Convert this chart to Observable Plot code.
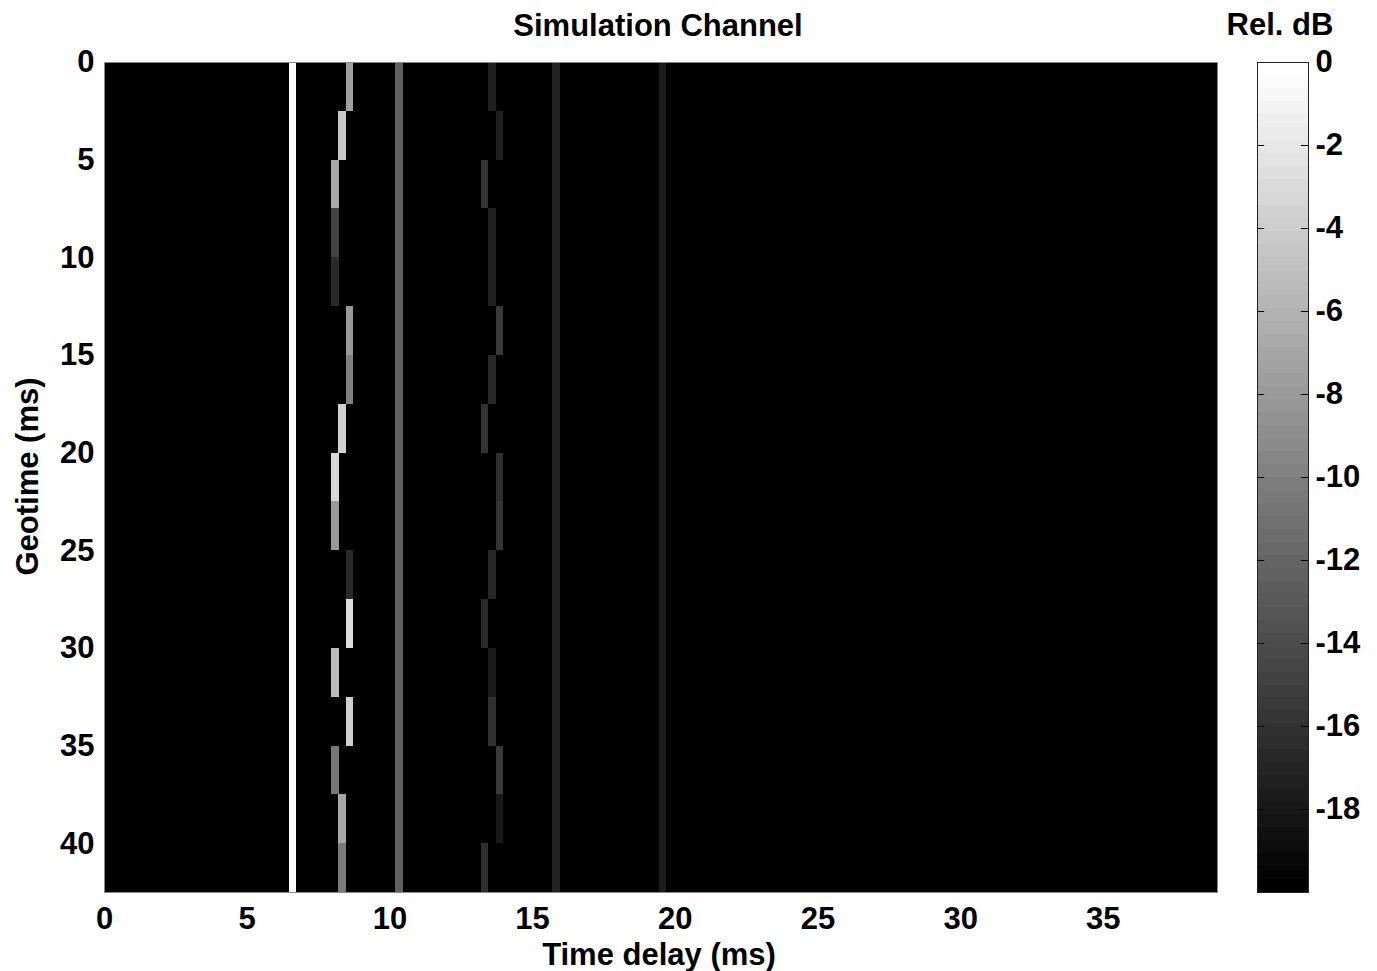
<!DOCTYPE html>
<html>
<head>
<meta charset="utf-8">
<script src="https://cdn.jsdelivr.net/npm/d3@7"></script>
<script src="https://cdn.jsdelivr.net/npm/@observablehq/plot@0.6"></script>
<style>
  body { margin: 0; background: #fff; }
  #wrap { position: relative; width: 1377px; height: 971px; overflow: hidden;
          font-family: "Liberation Sans", Arial, sans-serif; font-weight: bold; }
  #wrap svg { position: absolute; top: 0; }
  .lbl { position: absolute; font-size: 31px; line-height: 31px; font-weight: bold;
         color: #000; white-space: nowrap; text-align: center; }
</style>
</head>
<body>
<div id="wrap"></div>
<script>
// ---- data ----
const geotime = [0, 2.5, 5, 7.5, 10, 12.5, 15, 17.5, 20, 22.5, 25, 27.5, 30, 32.5, 35, 37.5, 40];

// straight (time-invariant) paths
const constDelay = [6.61, 10.33, 15.84, 19.58];
const constDb    = [0, -12.5, -17.3, -17.8];

// first wandering path (around 8 - 8.7 ms)
const path1Delay = [8.6, 8.34, 8.09, 8.09, 8.09, 8.6, 8.6, 8.34, 8.09, 8.09, 8.6, 8.6, 8.09, 8.6, 8.09, 8.34, 8.34];
const path1Db    = [-7.5, -4.3, -6.7, -15.0, -16.7, -8.0, -10.0, -3.7, -3.1, -8.0, -16.7, -2.7, -5.2, -3.8, -10.7, -6.8, -10.4];

// second wandering path (around 13.3 - 13.9 ms)
const path2Delay = [13.6, 13.85, 13.34, 13.6, 13.6, 13.85, 13.6, 13.34, 13.85, 13.85, 13.6, 13.34, 13.6, 13.6, 13.85, 13.85, 13.34];
const path2Db    = [-17.6, -17.6, -16.0, -17.5, -17.5, -15.5, -16.9, -16.0, -16.4, -16.0, -17.0, -16.7, -18.0, -16.2, -15.5, -18.1, -16.4];

const xTicks  = [0, 5, 10, 15, 20, 25, 30, 35];
const yTicks  = [0, 5, 10, 15, 20, 25, 30, 35, 40];
const cbTicks = [0, -2, -4, -6, -8, -10, -12, -14, -16, -18];

const delayStep = 0.26;   // ms, width of a delay bin
const geoStep = 2.5;      // ms, height of a geotime row
const dbMin = -20, dbMax = 0;

// ---- build cells ----
const cells = [];
geotime.forEach((g, i) => {
  constDelay.forEach((d, k) => cells.push({geotime: g, delay: d, db: constDb[k]}));
  cells.push({geotime: g, delay: path1Delay[i], db: path1Db[i]});
  cells.push({geotime: g, delay: path2Delay[i], db: path2Db[i]});
});

const colorScale = {type: "linear", domain: [dbMin, dbMax], range: ["black", "white"], interpolate: "rgb", clamp: true};
const font = {fontFamily: '"Liberation Sans", Arial, sans-serif', fontSize: "31px", fontWeight: "bold", color: "black", background: "transparent", overflow: "visible"};

const wrap = document.getElementById("wrap");

const main = Plot.plot({
  width: 1240, height: 971,
  marginLeft: 104, marginRight: 23, marginTop: 62, marginBottom: 79,
  x: {domain: [0, 39]},
  y: {domain: [0, 42.5], reverse: true},
  color: colorScale,
  style: font,
  marks: [
    Plot.frame({fill: "black"}),
    Plot.rect(cells, {
      x1: d => d.delay - delayStep / 2, x2: d => d.delay + delayStep / 2,
      y1: "geotime", y2: d => d.geotime + geoStep,
      fill: "db", shapeRendering: "crispEdges"
    }),
    Plot.frame({stroke: "#888"}),
    Plot.axisX({ticks: xTicks, tickSize: 0, tickPadding: 14, label: null, tickFormat: d => String(d)}),
    Plot.axisY({ticks: yTicks, tickSize: 0, tickPadding: 10, label: null, tickFormat: d => String(d)})
  ]
});
main.style.left = "0px";
wrap.appendChild(main);

// ---- colorbar ----
const nBands = 64;
const bands = d3.range(nBands).map(i => ({
  y1: dbMin + i * (dbMax - dbMin) / nBands,
  y2: dbMin + (i + 1) * (dbMax - dbMin) / nBands,
  v: dbMin + i * (dbMax - dbMin) / (nBands - 1)
}));

const cbar = Plot.plot({
  width: 177, height: 971,
  marginLeft: 57, marginRight: 69, marginTop: 62, marginBottom: 79,
  x: {domain: [0, 1], axis: null},
  y: {domain: [dbMin, dbMax]},
  color: colorScale,
  style: font,
  marks: [
    Plot.rect(bands, {x1: 0, x2: 1, y1: "y1", y2: "y2", fill: "v", shapeRendering: "crispEdges"}),
    Plot.ruleY(cbTicks.filter(t => t !== 0), {x1: 0, x2: 0.14, stroke: "black"}),
    Plot.ruleY(cbTicks.filter(t => t !== 0), {x1: 0.86, x2: 1, stroke: "black"}),
    Plot.frame({stroke: "#222"}),
    Plot.axisY({anchor: "right", ticks: cbTicks, tickSize: 0, tickPadding: 7, label: null, tickFormat: d => String(d)})
  ]
});
cbar.style.left = "1200px";
wrap.appendChild(cbar);

// ---- titles and axis labels ----
function label(text, css) {
  const el = document.createElement("div");
  el.className = "lbl";
  el.textContent = text;
  Object.assign(el.style, css);
  wrap.appendChild(el);
}
label("Simulation Channel", {left: "458px", width: "400px", top: "10px"});
label("Rel. dB", {left: "1180px", width: "200px", top: "9px"});
label("Time delay (ms)", {left: "459px", width: "400px", top: "939px"});
label("Geotime (ms)", {left: "-173px", width: "400px", height: "31px", top: "461px", transform: "rotate(-90deg)", transformOrigin: "50% 50%"});
</script>
</body>
</html>
